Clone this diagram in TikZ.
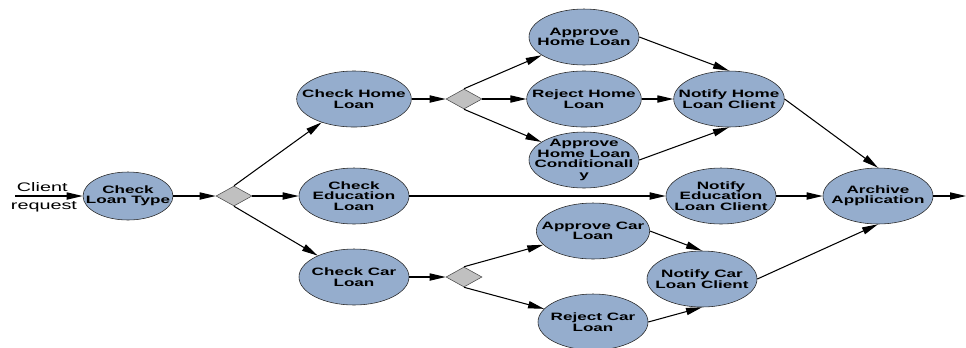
\documentclass[tikz,border=0pt]{standalone}
\usepackage{fontspec}
\newfontfamily\diagfont[FakeStretch=1.6]{Liberation Sans}
\usetikzlibrary{arrows.meta,shapes}
\definecolor{taskblue}{RGB}{149,173,205}
\definecolor{gategray}{RGB}{192,192,192}

\begin{document}
\begin{tikzpicture}[->,>={Triangle[length=4mm,width=1.8mm]},line width=0.75pt,
                    node distance=2.75cm,
                    task/.style={ellipse,draw=black!85,fill=taskblue,thin,
                      minimum width=2.75cm,minimum height=1.4cm,inner sep=-8pt,
                      align=center,font=\diagfont\bfseries\fontsize{7.6}{7.4}\selectfont},
                    gate/.style={diamond,draw=black!70,fill=gategray,thin,
                      minimum width=0.9cm,minimum height=0.5cm,inner sep=0pt},
                    plain/.style={font=\diagfont\fontsize{8.8}{8.8}\selectfont,inner sep=1pt}]

  \useasboundingbox (0,0) rectangle (24.15,-8.675);

  \node[task,minimum width=2.25cm,minimum height=1.2cm] (0) at (3.2,-4.9) {Check\\Loan Type};
  \node[gate] (1)  [right of=0,xshift=-0.1cm] {};
  \node[task] (2)  [right of=1,xshift=0.25cm,yshift=2.425cm] {Check Home\\Loan};
  \node[task] (3)  [right of=1,xshift=0.25cm] {Check\\Education\\Loan};
  \node[task] (4)  [right of=1,xshift=0.25cm,yshift=-2.025cm] {Check Car\\Loan};
  \node[gate] (5)  [right of=2] {};
  \node[gate] (6)  [right of=4] {};
  \node[task] (7)  [right of=5,xshift=0.25cm,yshift=1.55cm] {Approve\\Home Loan};
  \node[task] (8)  [right of=5,xshift=0.25cm] {Reject Home\\Loan};
  \node[task] (9)  [right of=5,xshift=0.25cm,yshift=-1.525cm] {Approve\\Home Loan\\Conditionall\\y};
  \node[task] (10) [right of=8,xshift=0.875cm] {Notify Home\\Loan Client};
  \node[task] (11) [below of=10,xshift=-0.2cm,yshift=0.325cm] {Notify\\Education\\Loan Client};
  \node[task] (15) [right of=11,xshift=1.175cm] {Archive\\Application};
  \node[task] (12) [right of=6,xshift=0.475cm,yshift=1.15cm] {Approve Car\\Loan};
  \node[task] (13) [right of=6,xshift=0.475cm,yshift=-1.125cm] {Reject Car\\Loan};
  \node[task] (14) [right of=12,xshift=-0.025cm,yshift=-1.2cm] {Notify Car\\Loan Client};

  \node[coordinate] (start) [left of=0,xshift=-0.075cm] {};
  \node[coordinate] (out)   [right of=15,xshift=-0.55cm] {};
  \node[plain,anchor=south west,yshift=2pt] (client)  at (start) {Client};
  \node[plain,anchor=north,xshift=0.725cm,yshift=-2.5pt] (request) at (start) {request};

  \path (start) edge (0)
        (0)     edge (1)
        (1.north) edge (2)
        (1.east)  edge (3)
        (1.south) edge (4)
        (2)     edge (5)
        (4)     edge (6)
        (5.north) edge (7)
        (5.east)  edge (8)
        (5.south) edge (9)
        (7.east)  edge (10.north)
        (8)     edge (10)
        (9.east)  edge (10.south)
        (3)     edge (11)
        (6.north) edge (12)
        (6.south) edge (13)
        (12.east) edge (14.north)
        (13.east) edge (14.south)
        (10.east) edge (15.north)
        (11)    edge (15)
        (14.east) edge (15.south)
        (15)    edge (out);
\end{tikzpicture}
\end{document}
